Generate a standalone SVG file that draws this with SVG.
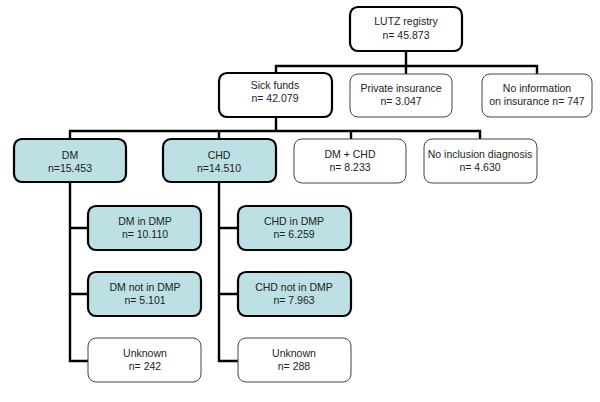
<svg xmlns="http://www.w3.org/2000/svg" width="600" height="402" viewBox="0 0 600 402">
<style>
.bold{fill:#fff;stroke:#000;stroke-width:2.2}
.teal{fill:#bce0e3;stroke:#000;stroke-width:2.2}
.thin{fill:#fff;stroke:#444;stroke-width:1}
text{font-family:"Liberation Sans",Arial,sans-serif;font-size:10.5px;fill:#222;text-anchor:middle}
.conn{fill:none;stroke:#000;stroke-width:2.4}
</style>
<rect width="600" height="402" fill="#fff"/>
<g id="connectors">
<path class="conn" d="M406,51 V66 M276,73 V66 H537 V74 M406,66 V74"/>
<path class="conn" d="M276,117 V131 M70,139 V131 H480 V139 M219,131 V139 M351,131 V139"/>
<path class="conn" d="M70,181 V361 H88 M70,228 H88 M70,294 H88"/>
<path class="conn" d="M219,181 V361 H238 M219,228 H238 M219,294 H238"/>
</g>
<g id="lutz"><rect class="bold" x="350" y="7" width="112" height="44" rx="8"/><text x="406" y="25">LUTZ registry</text><text x="406" y="39">n= 45.873</text></g>
<g id="sick"><rect class="bold" x="219" y="73" width="113" height="44" rx="8"/><text x="275" y="89">Sick funds</text><text x="275" y="102">n= 42.079</text></g>
<g id="private"><rect class="thin" x="350" y="74" width="102" height="43" rx="8"/><text x="401" y="92">Private insurance</text><text x="401" y="105">n= 3.047</text></g>
<g id="noinfo"><rect class="thin" x="482" y="74" width="110" height="43" rx="8"/><text x="537" y="92">No information</text><text x="537" y="105">on insurance n= 747</text></g>
<g id="dm"><rect class="teal" x="14" y="139" width="112" height="43" rx="8"/><text x="70" y="159">DM</text><text x="70" y="172">n=15.453</text></g>
<g id="chd"><rect class="teal" x="163" y="139" width="113" height="43" rx="8"/><text x="219" y="159">CHD</text><text x="219" y="172">n=14.510</text></g>
<g id="dmchd"><rect class="thin" x="294" y="139" width="112" height="44" rx="8"/><text x="350" y="158">DM + CHD</text><text x="350" y="171">n= 8.233</text></g>
<g id="noincl"><rect class="thin" x="424" y="139" width="113" height="44" rx="8"/><text x="480" y="158">No inclusion diagnosis</text><text x="480" y="171">n= 4.630</text></g>
<g id="dmin"><rect class="teal" x="88" y="206" width="113" height="44" rx="8"/><text x="145" y="225">DM in DMP</text><text x="145" y="238">n= 10.110</text></g>
<g id="dmnot"><rect class="teal" x="88" y="272" width="113" height="44" rx="8"/><text x="145" y="291">DM not in DMP</text><text x="145" y="304">n= 5.101</text></g>
<g id="dmunk"><rect class="thin" x="88" y="338" width="113" height="44" rx="8"/><text x="145" y="357">Unknown</text><text x="145" y="370">n= 242</text></g>
<g id="chdin"><rect class="teal" x="238" y="206" width="113" height="44" rx="8"/><text x="294" y="225">CHD in DMP</text><text x="294" y="238">n= 6.259</text></g>
<g id="chdnot"><rect class="teal" x="238" y="272" width="113" height="44" rx="8"/><text x="294" y="291">CHD not in DMP</text><text x="294" y="304">n= 7.963</text></g>
<g id="chdunk"><rect class="thin" x="238" y="338" width="113" height="44" rx="8"/><text x="294" y="357">Unknown</text><text x="294" y="370">n= 288</text></g>
</svg>
